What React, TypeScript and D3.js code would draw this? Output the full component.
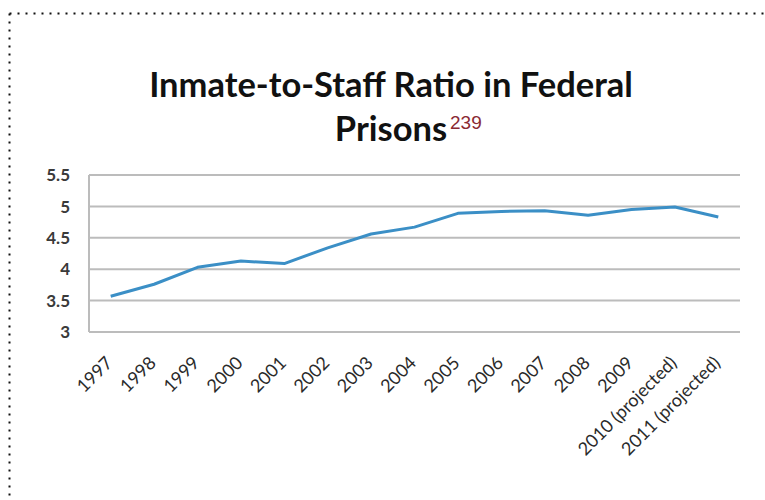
import React from "react";
import * as d3 from "d3";

const categories = [
  "1997", "1998", "1999", "2000", "2001", "2002", "2003", "2004",
  "2005", "2006", "2007", "2008", "2009", "2010 (projected)", "2011 (projected)",
];
const ratios = [3.57, 3.76, 4.03, 4.13, 4.09, 4.34, 4.56, 4.67, 4.89, 4.92, 4.93, 4.86, 4.95, 4.99, 4.83];
const yTicks = [3, 3.5, 4, 4.5, 5, 5.5];
const titleLine1 = "Inmate-to-Staff Ratio in Federal";
const titleLine2 = "Prisons";
const footnote = "239";

export default function App() {
  const W = 765, H = 500;
  const left = 89, right = 740, top = 175, bottom = 332;
  const x = d3.scaleBand<string>().domain(categories).range([left, right]);
  const y = d3.scaleLinear().domain([3, 5.5]).range([bottom, top]);
  const line = d3
    .line<number>()
    .x((_, i) => (x(categories[i]) as number) + x.bandwidth() / 2)
    .y((d) => y(d));
  const font = "Lato, 'Open Sans', sans-serif";
  return (
    <svg
      width={W}
      height={H}
      style={{ position: "absolute", left: 0, top: 0, background: "#fff" }}
    >
      <line x1={9.5} x2={W} y1={13.5} y2={13.5} stroke="#111" strokeWidth={2} strokeDasharray="2 6" />
      <line x1={9.5} x2={9.5} y1={13.5} y2={H} stroke="#111" strokeWidth={2} strokeDasharray="2 6" />
      <text x={391} y={97} textAnchor="middle" fontFamily={font} fontWeight={700} fontSize={34.5} fill="#111">
        {titleLine1}
      </text>
      <text x={391} y={141} textAnchor="middle" fontFamily={font} fontWeight={700} fontSize={34.5} fill="#111">
        {titleLine2}
      </text>
      <text x={450} y={129} fontFamily="'Liberation Sans', Arial, sans-serif" fontSize={19} fill="#8a2a33">
        {footnote}
      </text>
      {yTicks.map((t) => (
        <g key={t}>
          <line x1={left} x2={right} y1={y(t)} y2={y(t)} stroke="#bcbcbc" strokeWidth={2} />
          <text
            x={70}
            y={y(t)}
            dy="0.36em"
            textAnchor="end"
            fontFamily={font}
            fontWeight={700}
            fontSize={17}
            fill="#3a3a3a"
          >
            {t}
          </text>
        </g>
      ))}
      <line x1={left} x2={left} y1={top} y2={bottom} stroke="#bcbcbc" strokeWidth={2} />
      {categories.map((c) => {
        const cx = (x(c) as number) + x.bandwidth() / 2 + 3;
        const cy = 364;
        return (
          <text
            key={c}
            x={cx}
            y={cy}
            transform={`rotate(-45 ${cx} ${cy})`}
            textAnchor="end"
            fontFamily={font}
            fontSize={18}
            fill="#2a2a2a"
          >
            {c}
          </text>
        );
      })}
      <path d={line(ratios) || ""} fill="none" stroke="#3b8fc6" strokeWidth={3} strokeLinejoin="round" />
    </svg>
  );
}
